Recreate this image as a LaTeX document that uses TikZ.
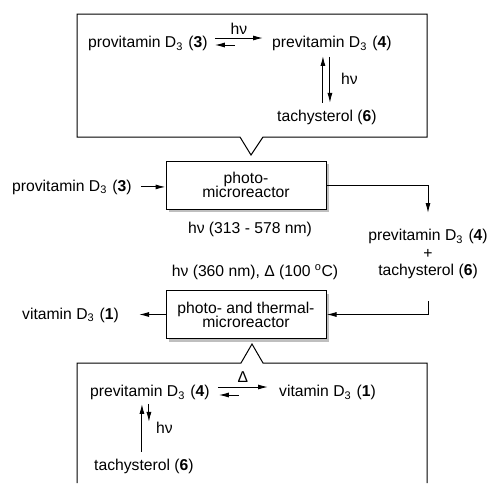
\documentclass[tikz,border=0pt]{standalone}
\usepackage{fontspec}
\setmainfont{Liberation Sans}
\usetikzlibrary{arrows.meta,shadows,calc}

\newcommand{\Dthree}{D\textsubscript{3}\hspace{.35em}}
\newcommand{\cpd}[1]{(\textbf{#1})}

\begin{document}
\begin{tikzpicture}[x=1pt,y=-1pt,
    every node/.style={inner sep=0pt,font=\fontsize{15.7}{15.7}\selectfont},
    arr/.style={-{Latex[length=10pt,width=5pt]},line width=1pt},
    reactor/.style={draw,line width=1pt,fill=white,align=center,
        minimum width=160pt,minimum height=48pt,
        drop shadow={shadow xshift=3pt,shadow yshift=-3pt,fill=black!25,opacity=1}},
    callout/.style={line width=1pt}]
    \useasboundingbox (0,0) rectangle (488,483);

    % upper callout: photo-equilibrium
    \draw[callout] (77,14) -- (427,14) -- (427,137) -- (263,137) -- (251,155)
        -- (240,137) -- (77,137) -- cycle;
    \node[anchor=base west] (pro3) at (88,47.5) {provitamin \Dthree\cpd{3}};
    \node[anchor=base west] (pre4) at (272,47.5) {previtamin \Dthree\cpd{4}};
    \node[anchor=base west] (tachy6) at (277,121.5) {tachysterol \cpd{6}};
    \draw[arr] ([xshift=7pt,yshift=9.5pt]pro3.base east)
        -- ([xshift=-9pt,yshift=9.5pt]pre4.base west)
        node[midway,above=3pt] (hv1) {hν};
    \draw[arr] ([xshift=27pt,yshift=2.5pt]pro3.base east)
        -- ([xshift=7pt,yshift=2.5pt]pro3.base east);
    \draw[arr] ($(tachy6.north)+(-4,-7)$) -- ($(tachy6.north |- pre4.south)+(-4,5)$);
    \draw[arr] ($(tachy6.north |- pre4.south)+(3,6)$) -- ($(tachy6.north)+(3,-7)$);
    \node[anchor=base west] (hv2) at (341,84) {hν};

    % reactors
    \node[reactor] (photoR) at (246,185) {photo-\\[-1.5pt]microreactor};
    \node[reactor] (thermR) at (246,314.5) {photo- and thermal-\\[-1.5pt]microreactor};
    \node[anchor=base west] (pro3in) at (12,191) {provitamin \Dthree\cpd{3}};
    \node[anchor=base] (cond1) at (250,233) {hν (313 - 578 nm)};
    \node[anchor=base] (cond2) at (255,276) {hν (360 nm), Δ (100 \textsuperscript{o}C)};
    \node[align=center,anchor=north] (mix) at (428,229)
        {previtamin \Dthree\cpd{4}\\[2pt]+\\[2pt]tachysterol \cpd{6}};
    \node[anchor=base west] (vit1) at (22,319) {vitamin \Dthree\cpd{1}};

    \draw[arr,shorten <=9pt] (pro3in.east) -- (photoR.west |- pro3in.east);
    \draw[arr,shorten >=16pt] (photoR.east) -| (mix.north);
    \draw[arr,shorten <=22pt] (mix.south) |- (thermR.east);
    \draw[arr] (thermR.west) -- (thermR.west -| 139,0);

    % lower callout: thermal step
    \draw[callout] (77,483) -- (77,363) -- (241,363) -- (252,344) -- (263,363)
        -- (427,363) -- (427,483);
    \node[anchor=base west] (pre4b) at (90,396.5) {previtamin \Dthree\cpd{4}};
    \node[anchor=base west] (vit1b) at (279,396.5) {vitamin \Dthree\cpd{1}};
    \node[anchor=base west] (tachy6b) at (94,470.5) {tachysterol \cpd{6}};
    \draw[arr] ([xshift=8pt,yshift=9.5pt]pre4b.base east)
        -- ([xshift=-11pt,yshift=9.5pt]vit1b.base west)
        node[midway,above=4pt] (delta) {Δ};
    \draw[arr] ([xshift=29pt,yshift=1.5pt]pre4b.base east)
        -- ([xshift=9pt,yshift=1.5pt]pre4b.base east);
    \draw[arr] ($(tachy6b.north)+(-2,-7)$) -- ($(tachy6b.north |- pre4b.south)+(-2,4)$);
    \draw[arr] ($(tachy6b.north |- pre4b.south)+(5,4)$) -- ($(tachy6b.north |- pre4b.south)+(5,22)$);
    \node[anchor=base west] (hv3) at (156,433) {hν};
\end{tikzpicture}
\end{document}
